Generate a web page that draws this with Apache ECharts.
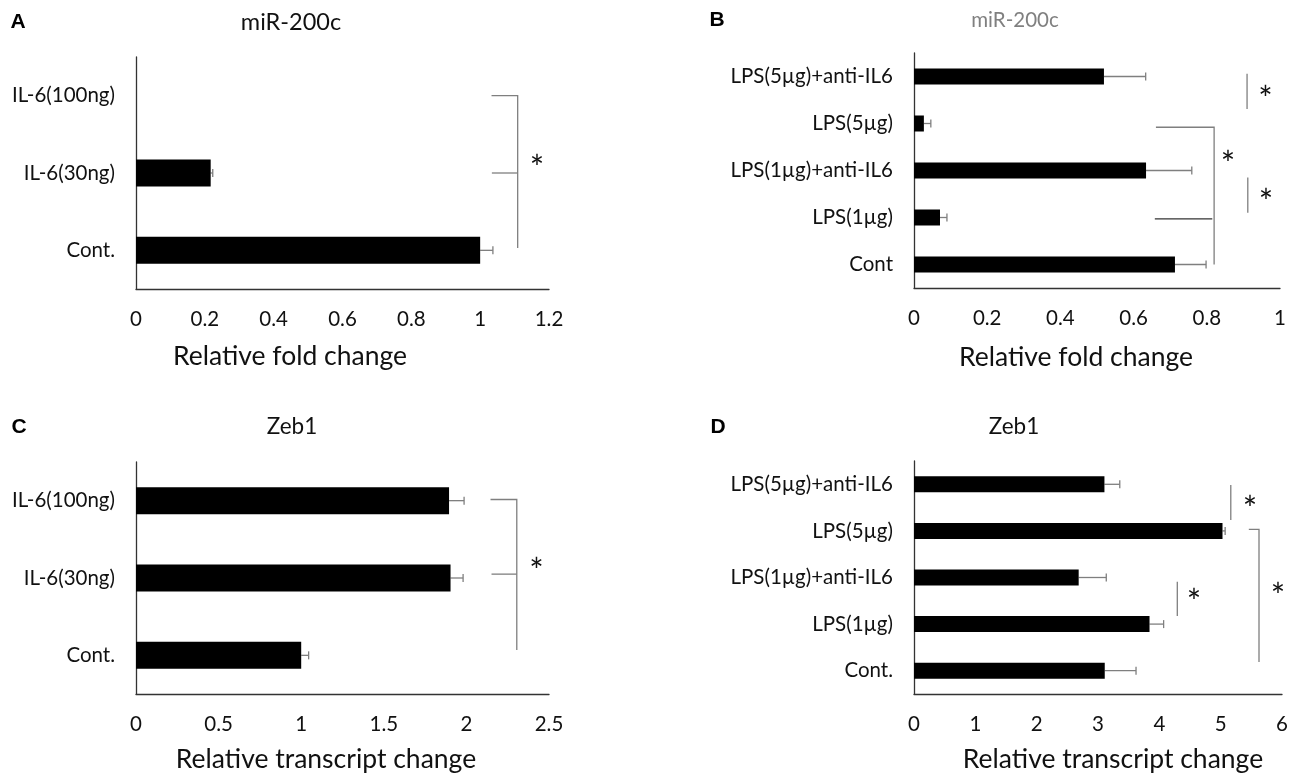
<!DOCTYPE html>
<html>
<head>
<meta charset="utf-8">
<script src="https://cdn.jsdelivr.net/npm/echarts@6/dist/echarts.min.js"></script>
<style>
html,body{margin:0;padding:0;background:#fff}
#chart{width:1295px;height:775px}
</style>
</head>
<body>
<div id="chart"></div>
<script>
// A: miR-200c, IL-6
var catA = ['Cont.', 'IL-6(30ng)', 'IL-6(100ng)'];
var valA = [1.0, 0.217, 0];
var errA = [0.037, 0.006, 0];
var brkA = [[[1.033, 2], [1.109, 2], [1.109, 0.03]], [[1.034, 1], [1.109, 1]]];
var starA = [[1.165, 1.14]];

// B: miR-200c, LPS
var catB = ['Cont', 'LPS(1µg)', 'LPS(1µg)+anti-IL6', 'LPS(5µg)', 'LPS(5µg)+anti-IL6'];
var valB = [0.713, 0.071, 0.634, 0.027, 0.519];
var errB = [0.085, 0.019, 0.125, 0.019, 0.114];
var brkB = [[[0.910, 4.06], [0.910, 3.31]],
            [[0.661, 2.92], [0.820, 2.92], [0.820, 0.0]],
            [[0.658, 0.97], [0.815, 0.97]],
            [[0.912, 1.85], [0.912, 1.10]]];
var starB = [[0.960, 3.65], [0.858, 2.27], [0.962, 1.45]];

// C: Zeb1, IL-6
var catC = ['Cont.', 'IL-6(30ng)', 'IL-6(100ng)'];
var valC = [1.0, 1.904, 1.895];
var errC = [0.045, 0.076, 0.091];
var brkC = [[[2.146, 2.015], [2.305, 2.015], [2.305, 0.07]], [[2.152, 1.05], [2.305, 1.05]]];
var starC = [[2.424, 1.17]];

// D: Zeb1, LPS
var catD = ['Cont.', 'LPS(1µg)', 'LPS(1µg)+anti-IL6', 'LPS(5µg)', 'LPS(5µg)+anti-IL6'];
var valD = [3.11, 3.84, 2.685, 5.03, 3.105];
var errD = [0.51, 0.23, 0.45, 0.043, 0.25];
var brkD = [[[5.165, 3.985], [5.165, 3.234]],
            [[5.459, 3.034], [5.625, 3.034], [5.625, 0.187]],
            [[4.293, 1.91], [4.293, 1.174]]];
var starD = [[5.478, 3.60], [4.565, 1.60], [5.935, 1.73]];

var FONT = 'Lato, "Open Sans", sans-serif';
var GRAY = '#7f7f7f';
var INK = '#111';

var panels = [
  {cats: catA, vals: valA, errs: errA, max: 1.2, step: 0.2, brk: brkA, star: starA,
   grid: {left: 136, top: 57, width: 413, height: 232}, barW: 27},
  {cats: catB, vals: valB, errs: errB, max: 1, step: 0.2, brk: brkB, star: starB,
   grid: {left: 914, top: 53, width: 366, height: 235}, barW: 16, darkBrk: 2},
  {cats: catC, vals: valC, errs: errC, max: 2.5, step: 0.5, brk: brkC, star: starC,
   grid: {left: 136, top: 462, width: 413, height: 232}, barW: 27},
  {cats: catD, vals: valD, errs: errD, max: 6, step: 1, brk: brkD, star: starD,
   grid: {left: 914, top: 461, width: 368, height: 233}, barW: 16}
];

var grids = [], xAxes = [], yAxes = [], series = [];

panels.forEach(function (p, i) {
  grids.push(p.grid);
  xAxes.push({
    type: 'value', gridIndex: i, min: 0, max: p.max, interval: p.step,
    splitLine: {show: false},
    axisTick: {show: false},
    axisLine: {show: true, onZero: false, lineStyle: {color: '#333', width: 1.3}},
    axisLabel: {margin: 20, fontSize: 20.5, fontFamily: FONT, color: INK}
  });
  yAxes.push({
    type: 'category', gridIndex: i, data: p.cats,
    axisTick: {show: false},
    axisLine: {show: true, onZero: false, lineStyle: {color: '#333', width: 1.3}},
    axisLabel: {margin: 21, fontSize: 20.5, fontFamily: FONT, color: INK}
  });
  yAxes.push({
    type: 'value', gridIndex: i, min: -0.5, max: p.cats.length - 0.5, show: false
  });

  series.push({
    type: 'bar', xAxisIndex: i, yAxisIndex: 2 * i, data: p.vals,
    barWidth: p.barW, itemStyle: {color: '#000'}, silent: true
  });

  series.push({
    type: 'custom', xAxisIndex: i, yAxisIndex: 2 * i,
    data: p.vals.map(function (v, k) { return [v, p.errs[k], k]; }),
    encode: {x: 0, y: 2},
    renderItem: function (params, api) {
      var v = api.value(0), e = api.value(1), c = api.value(2);
      if (!e) return;
      var a = api.coord([v, c]), b = api.coord([v + e, c]);
      var st = {stroke: GRAY, lineWidth: 1.3};
      return {type: 'group', children: [
        {type: 'line', shape: {x1: a[0], y1: a[1], x2: b[0], y2: b[1]}, style: st},
        {type: 'line', shape: {x1: b[0], y1: b[1] - 4, x2: b[0], y2: b[1] + 4}, style: st}
      ]};
    }
  });

  series.push({
    type: 'custom', xAxisIndex: i, yAxisIndex: 2 * i + 1, clip: false,
    data: p.brk.map(function (b, k) { return [b[0][0], b[0][1], k]; }),
    encode: {x: 0, y: 1},
    renderItem: function (params, api) {
      var k = api.value(2);
      var pts = p.brk[k].map(function (q) { return api.coord(q); });
      return {type: 'polyline', shape: {points: pts},
              style: {stroke: k === p.darkBrk ? '#333' : GRAY, lineWidth: 1.3, fill: null}};
    }
  });

  series.push({
    type: 'custom', xAxisIndex: i, yAxisIndex: 2 * i + 1, clip: false,
    data: p.star,
    encode: {x: 0, y: 1},
    renderItem: function (params, api) {
      var c = api.coord([api.value(0), api.value(1)]);
      return {type: 'text', x: c[0], y: c[1] + 7,
              style: {text: '*', fontSize: 34, fontFamily: FONT, fill: INK,
                      align: 'center', verticalAlign: 'middle'}};
    }
  });
});

function txt(x, y, s, size, opts) {
  opts = opts || {};
  return {type: 'text', x: x, y: y, style: {
    text: s, fontSize: size, fontFamily: opts.family || FONT,
    fontWeight: opts.weight || 'normal', fill: opts.color || INK,
    align: 'center', verticalAlign: 'middle'}};
}

var letterFont = '"Liberation Sans", Arial, sans-serif';
var graphics = [
  txt(18, 22, 'A', 21, {weight: 'bold', family: letterFont, color: '#000'}),
  txt(717, 20, 'B', 21, {weight: 'bold', family: letterFont, color: '#000'}),
  txt(19, 427, 'C', 21, {weight: 'bold', family: letterFont, color: '#000'}),
  txt(718, 427, 'D', 21, {weight: 'bold', family: letterFont, color: '#000'}),
  txt(291, 22, 'miR-200c', 23.5),
  txt(1015, 20, 'miR-200c', 20.5, {color: '#808080'}),
  txt(292, 427, 'Zeb1', 22.5),
  txt(1014, 427, 'Zeb1', 22.5),
  txt(290, 356, 'Relative fold change', 26.5),
  txt(1076, 357, 'Relative fold change', 26.5),
  txt(326, 759, 'Relative transcript change', 26.5),
  txt(1113, 759, 'Relative transcript change', 26.5)
];

var chart = echarts.init(document.getElementById('chart'), null, {renderer: 'canvas'});
chart.setOption({
  animation: false,
  backgroundColor: '#fff',
  grid: grids,
  xAxis: xAxes,
  yAxis: yAxes,
  series: series,
  graphic: graphics
});
</script>
</body>
</html>
